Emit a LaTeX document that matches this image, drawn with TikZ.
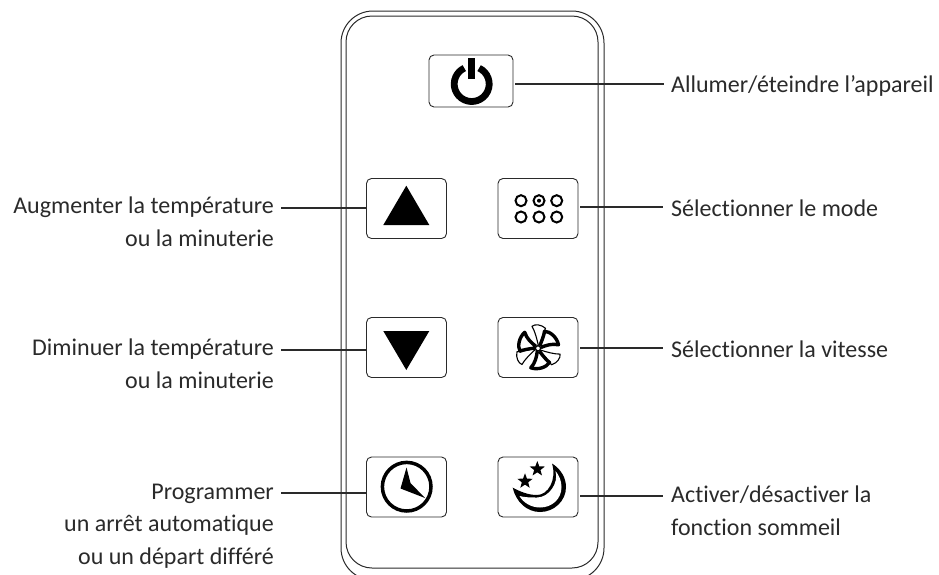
\documentclass[tikz,border=0pt]{standalone}
\usepackage{fontspec}
\setmainfont[Ligatures=NoCommon]{Carlito}
\usetikzlibrary{shapes.geometric}
\definecolor{ink}{HTML}{2A2A2A}
\tikzset{
  x=1pt,y=1pt,
  btn/.style={draw=ink,line width=0.9pt,rounded corners=5pt,minimum width=80pt,minimum height=60pt,inner sep=0pt,fill=white},
  lead/.style={draw=ink,line width=1.1pt},
  body/.style={draw=ink,line width=1pt},
  lab/.style={text=ink,inner sep=0pt,font=\fontsize{24}{32.5}\selectfont,anchor=base west},
  labr/.style={text=ink,inner sep=0pt,font=\fontsize{24}{32.5}\selectfont,align=right,anchor=base east},
  ring/.style={circle,draw=black,line width=2pt,minimum size=11pt,inner sep=0pt},
  starmark/.style={star,star points=5,star point ratio=2.4,fill=black,minimum size=16pt,inner sep=0pt},
}
\begin{document}
\begin{tikzpicture}
\useasboundingbox (0,0) rectangle (939,-574);
\begin{scope}
\clip (0,0) rectangle (939,-574);
\draw[body,rounded corners=32pt] (341,-11) rectangle (604,-580);
\draw[body,rounded corners=26pt] (346,-16) rectangle (598,-568);
\end{scope}
\coordinate (cP) at (664,-84);
\coordinate (cM) at (663,-207);
\coordinate (cF) at (663,-348);
\coordinate (cN) at (663,-496);
\coordinate (cU) at (281,-208);
\coordinate (cD) at (281,-350);
\coordinate (cC) at (281,-493);
\coordinate (sP) at (515,-84);
\coordinate (sM) at (580,-207);
\coordinate (sF) at (580,-348);
\coordinate (sN) at (580,-496);
\coordinate (sU) at (367,-208);
\coordinate (sD) at (367,-350);
\coordinate (sC) at (367,-493);
\draw[lead] (sP) -- (cP);
\draw[lead] (sM) -- (cM);
\draw[lead] (sF) -- (cF);
\draw[lead] (sN) -- (cN);
\draw[lead] (cU) -- (sU);
\draw[lead] (cD) -- (sD);
\draw[lead] (cC) -- (sC);
\node[btn,minimum width=84pt,minimum height=52pt] (pwr) at (471,-81) {};
\node[btn] (up) at (406.5,-208.5) {};
\node[btn] (dn) at (406.5,-347.5) {};
\node[btn] (clk) at (406.5,-487) {};
\node[btn] (mod) at (538,-208.5) {};
\node[btn] (fan) at (538,-347.5) {};
\node[btn] (slp) at (538,-487) {};
% power
\draw[black,line width=6.8pt] (471.7,-84)+(65:17.5) arc[start angle=65,end angle=-245,radius=17.5];
\fill[black] (468,-58) rectangle (475.3,-79);
% triangles
\fill[black] (406.3,-185.7) -- (429.3,-225) -- (383.3,-225) -- cycle;
\fill[black] (383.3,-331) -- (429.3,-331) -- (406.3,-370) -- cycle;
% mode
\foreach \cx/\cy in {521/-200.7,556.7/-200.7,521/-217,539/-217,556.7/-217}
  \node[ring] at (\cx,\cy) {};
\node[ring] at (539,-200.7) {};
\fill[black] (539,-200.7) circle (2pt);
% fan
\begin{scope}[shift={(538,-348.3)}]
\foreach \a in {0,120,240}{
  \draw[black,line width=3.4pt,line join=round,rotate=\a]
    (1.8,2.6) .. controls (4,8) and (6,13) .. (6.5,17)
    .. controls (12,17) and (19,11) .. (20.5,3.5)
    .. controls (14,5) and (8,3) .. (2.8,0.8);
  \draw[black,line width=1.1pt,line join=round,rotate=\a]
    (0.3,3) .. controls (-1,9) and (-3,17) .. (-6,22)
    .. controls (-3,24.5) and (3,24) .. (7.5,20)
    .. controls (5,14) and (3,8) .. (1.5,2.8);
}
\draw[black,line width=1.3pt,fill=white] (0,0) circle (2.6pt);
\end{scope}
% clock
\draw[black,line width=3.5pt] (406.7,-486.7) circle (24.3pt);
\fill[black] (406.5,-467.5) -- (400.5,-488.5) -- (425,-498) -- (410.5,-483) -- cycle;
% moon
\fill[black] (552,-463.5) .. controls (561,-469) and (566,-478) .. (566,-487)
  .. controls (566,-501) and (554,-512) .. (540,-512)
  .. controls (527,-512) and (516,-502) .. (512.7,-487.7)
  .. controls (520,-491.5) and (528,-495) .. (537,-495)
  .. controls (548,-495) and (557,-480) .. (552,-463.5) -- cycle;
\fill[white] (555.5,-471) .. controls (559,-475) and (561.5,-481) .. (561.5,-487)
  .. controls (561.5,-499) and (552,-507.5) .. (540,-507.5)
  .. controls (531,-507.5) and (523,-502.5) .. (519.5,-496)
  .. controls (525,-497.5) and (531,-497.5) .. (537,-497.5)
  .. controls (549,-497.5) and (559,-483) .. (555.5,-471) -- cycle;
\node[starmark] (s1) at (537.3,-469) {};
\node[starmark] (s2) at (525,-481.3) {};
% labels
\node[lab] (lP) at (671,-92) {Allumer/éteindre l’appareil};
\node[lab] (lM) at (671,-216) {Sélectionner le mode};
\node[lab] (lF) at (671,-357) {Sélectionner la vitesse};
\node[lab,align=left] (lN) at (671,-535) {Activer/désactiver la\\fonction sommeil};
\node[labr] (lU) at (274,-246) {Augmenter la température\\ou la minuterie};
\node[labr] (lD) at (274,-388) {Diminuer la température\\ou la minuterie};
\node[labr] (lC) at (274,-564) {Programmer\\un arrêt automatique\\ou un départ différé};
\end{tikzpicture}
\end{document}
